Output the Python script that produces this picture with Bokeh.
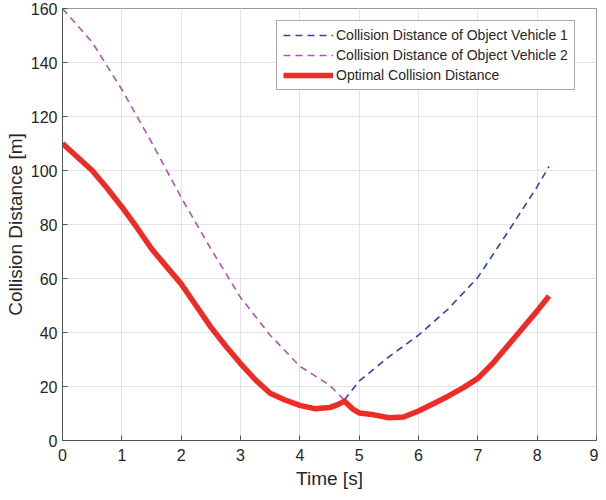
from bokeh.plotting import figure
from bokeh.models import Range1d, Legend, LegendItem, FixedTicker
from bokeh.embed import file_html
from bokeh.resources import INLINE

# Vehicle 2 (magenta dashed)
t_v2 = [0, 0.5, 1, 1.5, 2, 2.5, 3, 3.5, 4, 4.5, 4.75]
d_v2 = [160, 147.5, 130, 110.5, 90, 71, 53, 39, 27.5, 20.5, 15]

# Vehicle 1 (blue dashed)
t_v1 = [4.75, 5, 5.5, 6, 6.5, 7, 7.5, 8, 8.2]
d_v1 = [15, 22, 31, 39, 48.7, 60.4, 77, 94, 101.5]

# Optimal (red)
t_opt = [0, 0.25, 0.5, 0.75, 1, 1.25, 1.5, 1.75, 2, 2.25, 2.5, 2.75, 3, 3.25, 3.5,
         3.75, 4, 4.25, 4.5, 4.65, 4.75, 4.9, 5, 5.25, 5.5, 5.75, 6, 6.25, 6.5, 6.75, 7,
         7.25, 7.5, 7.75, 8, 8.2]
d_opt = [110, 105, 100, 93.5, 86.5, 79, 71, 64.5, 58, 50, 42, 35, 28.5, 22.5, 17.5,
         15, 13, 11.8, 12.2, 13.4, 14.6, 11.5, 10.2, 9.5, 8.4, 8.7, 10.9, 13.6, 16.4, 19.5, 23,
         28.5, 35, 41.5, 48, 53.5]

x_ticks = [0, 1, 2, 3, 4, 5, 6, 7, 8, 9]
y_ticks = [0, 20, 40, 60, 80, 100, 120, 140, 160]

labels = ["Collision Distance of Object Vehicle 1",
          "Collision Distance of Object Vehicle 2",
          "Optimal Collision Distance"]

FONT = "Liberation Sans"

p = figure(width=598, height=492, output_backend="svg", toolbar_location=None,
           x_range=Range1d(0, 9), y_range=Range1d(0, 160),
           min_border_left=62, min_border_right=2, min_border_top=8, min_border_bottom=52)

r1 = p.line(t_v1, d_v1, line_color="#3243a8", line_width=1.6, line_dash="7 5")
r2 = p.line(t_v2, d_v2, line_color="#b550b8", line_width=1.6, line_dash="7 5")
r3 = p.line(t_opt, d_opt, line_color="#ee2b27", line_width=5.5, line_join="round")

p.xaxis.ticker = FixedTicker(ticks=x_ticks)
p.yaxis.ticker = FixedTicker(ticks=y_ticks)
p.xaxis.axis_label = "Time [s]"
p.yaxis.axis_label = "Collision Distance [m]"

for ax in (p.xaxis, p.yaxis):
    ax.axis_line_color = "#555555"
    ax.major_tick_line_color = "#555555"
    ax.major_tick_in = 5
    ax.major_tick_out = 0
    ax.minor_tick_line_color = None
    ax.major_label_text_font = FONT
    ax.major_label_text_font_size = "16px"
    ax.major_label_text_color = "#262626"
    ax.axis_label_text_font = FONT
    ax.axis_label_text_font_size = "19px"
    ax.axis_label_text_font_style = "normal"
    ax.axis_label_text_color = "#262626"

p.xaxis.major_label_standoff = 8
p.xaxis.axis_label_standoff = 4
p.yaxis.major_label_standoff = 5
p.yaxis.axis_label_standoff = 2

p.xgrid.grid_line_color = "#e3e3e3"
p.ygrid.grid_line_color = "#e3e3e3"
p.outline_line_color = "#999999"

legend = Legend(items=[LegendItem(label=labels[0], renderers=[r1]),
                       LegendItem(label=labels[1], renderers=[r2]),
                       LegendItem(label=labels[2], renderers=[r3])],
                location=(214, 350))
legend.label_text_font = FONT
legend.label_text_font_size = "14px"
legend.label_text_color = "#262626"
legend.glyph_width = 50
legend.glyph_height = 16
legend.label_height = 16
legend.label_standoff = 3
legend.spacing = 4
legend.padding = 6
legend.margin = 0
legend.border_line_color = "#555555"
legend.background_fill_alpha = 1
p.add_layout(legend, "center")

open("out.html", "w").write(file_html(p, INLINE))
